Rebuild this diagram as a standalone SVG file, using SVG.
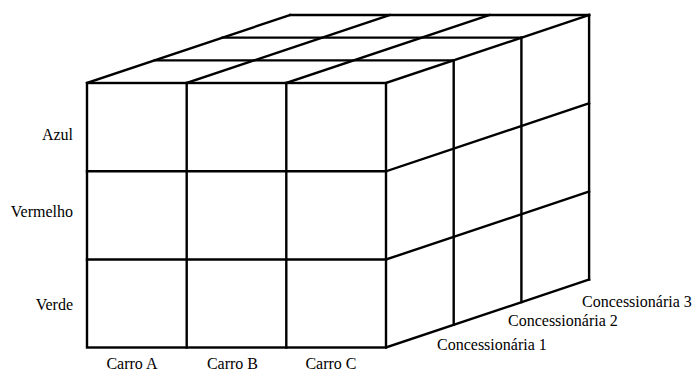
<svg xmlns="http://www.w3.org/2000/svg" width="695" height="374" viewBox="0 0 695 374">
  <style>
    .ln { fill: none; stroke: #000; stroke-width: 2.4; stroke-linecap: square; stroke-linejoin: miter; }
    .lbl { font-family: "Liberation Serif", "Times New Roman", serif; font-size: 16px; fill: #000; }
    .end { text-anchor: end; }
    .mid { text-anchor: middle; }
  </style>
  <rect width="695" height="374" fill="#fff"/>
  <g id="top-face" class="ln">
    <line x1="154.7" y1="60.33" x2="453.7" y2="60.33"/>
    <line x1="222.4" y1="37.67" x2="521.4" y2="37.67"/>
    <line x1="290.1" y1="15" x2="589.1" y2="15"/>
    <line x1="87" y1="83" x2="290.1" y2="15"/>
    <line x1="186.7" y1="83" x2="389.8" y2="15"/>
    <line x1="286.3" y1="83" x2="489.4" y2="15"/>
    <line x1="386" y1="83" x2="589.1" y2="15"/>
  </g>
  <g id="right-face" class="ln">
    <line x1="453.7" y1="60.33" x2="453.7" y2="324.83"/>
    <line x1="521.4" y1="37.67" x2="521.4" y2="302.17"/>
    <line x1="589.1" y1="15" x2="589.1" y2="279.5"/>
    <line x1="386" y1="171.3" x2="589.1" y2="103.3"/>
    <line x1="386" y1="259.5" x2="589.1" y2="191.5"/>
    <line x1="386" y1="347.5" x2="589.1" y2="279.5"/>
  </g>
  <g id="front-face" class="ln">
    <rect x="87" y="83" width="299" height="264.5"/>
    <line x1="186.7" y1="83" x2="186.7" y2="347.5"/>
    <line x1="286.3" y1="83" x2="286.3" y2="347.5"/>
    <line x1="87" y1="171.3" x2="386" y2="171.3"/>
    <line x1="87" y1="259.5" x2="386" y2="259.5"/>
  </g>
  <g id="row-labels" class="lbl end">
    <text x="73" y="140">Azul</text>
    <text x="73" y="217">Vermelho</text>
    <text x="73" y="310">Verde</text>
  </g>
  <g id="column-labels" class="lbl mid">
    <text x="132" y="369">Carro A</text>
    <text x="232.5" y="369">Carro B</text>
    <text x="331" y="369">Carro C</text>
  </g>
  <g id="depth-labels" class="lbl">
    <text x="437" y="350">Concessionária 1</text>
    <text x="508" y="326">Concessionária 2</text>
    <text x="582" y="307">Concessionária 3</text>
  </g>
</svg>
